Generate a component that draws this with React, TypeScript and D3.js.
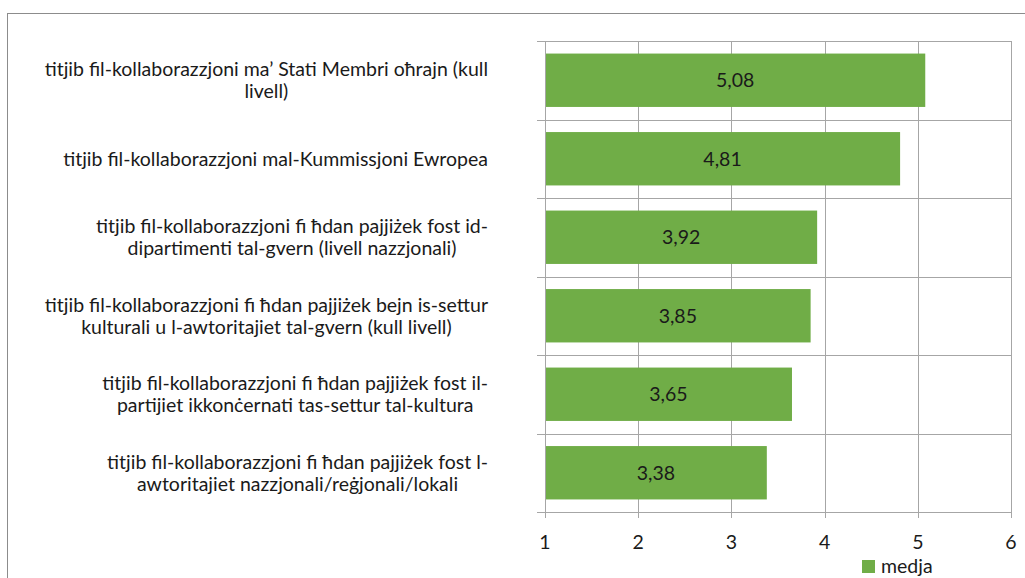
import React, { useEffect, useRef } from 'react'
import * as d3 from 'd3'

// categories, each split into the lines shown in the chart
const categories = [
  ['titjib fil-kollaborazzjoni ma’ Stati Membri oħrajn (kull', 'livell)'],
  ['titjib fil-kollaborazzjoni mal-Kummissjoni Ewropea'],
  ['titjib fil-kollaborazzjoni fi ħdan pajjiżek fost id-', 'dipartimenti tal-gvern (livell nazzjonali)'],
  ['titjib fil-kollaborazzjoni fi ħdan pajjiżek bejn is-settur', 'kulturali u l-awtoritajiet tal-gvern (kull livell)'],
  ['titjib fil-kollaborazzjoni fi ħdan pajjiżek fost il-', 'partijiet ikkonċernati tas-settur tal-kultura'],
  ['titjib fil-kollaborazzjoni fi ħdan pajjiżek fost l-', 'awtoritajiet nazzjonali/reġjonali/lokali'],
]
const values = [5.08, 4.81, 3.92, 3.85, 3.65, 3.38]
const xTicks = [1, 2, 3, 4, 5, 6]
const seriesName = 'medja'

const W = 1025
const H = 578
const FONT = 'Lato, "Open Sans", sans-serif'
const FS = 19.5

export default function App() {
  const ref = useRef<SVGSVGElement>(null)

  useEffect(() => {
    const svg = d3.select(ref.current)
    svg.selectAll('*').remove()

    const left = 545, right = 1011, top = 41, bottom = 512
    const grid = '#a6a6a6'

    const x = d3.scaleLinear().domain([1, 6]).range([left, right])
    const y = d3.scaleBand<number>()
      .domain(d3.range(categories.length))
      .range([top, bottom])
      .paddingInner(0.32)
      .paddingOuter(0.16)
    const step = y.step()

    // outer chart border
    svg.append('rect')
      .attr('x', 7.5).attr('y', 13.5)
      .attr('width', W + 20).attr('height', H + 20)
      .attr('fill', '#fff').attr('stroke', '#8c8c8c').attr('stroke-width', 1)

    // vertical gridlines with small ticks below the axis
    svg.append('g').selectAll('line')
      .data(xTicks)
      .join('line')
      .attr('x1', d => Math.round(x(d)) + 0.5)
      .attr('x2', d => Math.round(x(d)) + 0.5)
      .attr('y1', top)
      .attr('y2', bottom + 6)
      .attr('stroke', grid)

    // horizontal lines at category boundaries, with outward ticks
    const bounds = d3.range(categories.length + 1).map(i => top + i * (bottom - top) / categories.length)
    svg.append('g').selectAll('line')
      .data(bounds)
      .join('line')
      .attr('x1', left - 8)
      .attr('x2', right)
      .attr('y1', d => Math.round(d) + 0.5)
      .attr('y2', d => Math.round(d) + 0.5)
      .attr('stroke', grid)

    // bars
    svg.append('g').selectAll('rect')
      .data(values)
      .join('rect')
      .attr('x', x(1) + 1)
      .attr('y', (_, i) => y(i)!)
      .attr('width', d => x(d) - x(1) - 1)
      .attr('height', y.bandwidth())
      .attr('fill', '#70ad47')

    // value labels
    svg.append('g').selectAll('text')
      .data(values)
      .join('text')
      .attr('x', d => (x(1) + x(d)) / 2)
      .attr('y', (_, i) => y(i)! + y.bandwidth() / 2)
      .attr('dy', '0.35em')
      .attr('text-anchor', 'middle')
      .attr('font-family', FONT)
      .attr('font-size', FS)
      .attr('fill', '#1a1a1a')
      .text(d => d.toFixed(2).replace('.', ','))

    // x tick labels
    svg.append('g').selectAll('text')
      .data(xTicks)
      .join('text')
      .attr('x', d => x(d))
      .attr('y', bottom + 30)
      .attr('dy', '0.35em')
      .attr('text-anchor', 'middle')
      .attr('font-family', FONT)
      .attr('font-size', FS)
      .attr('fill', '#1a1a1a')
      .text(d => String(d))

    // category labels: block right-aligned, lines centred within the block
    const lineH = 22
    const labelRight = 488
    categories.forEach((lines, i) => {
      const cy = top + (i + 0.5) * step
      const g = svg.append('g')
      const texts = lines.map((ln, j) =>
        g.append('text')
          .attr('y', cy + (j - (lines.length - 1) / 2) * lineH)
          .attr('dy', '0.35em')
          .attr('text-anchor', 'middle')
          .attr('font-family', FONT)
          .attr('font-size', FS)
          .attr('fill', '#1a1a1a')
          .text(ln)
      )
      const maxW = d3.max(texts, t => (t.node() as SVGTextElement).getComputedTextLength()) || 0
      texts.forEach(t => t.attr('x', labelRight - maxW / 2))
    })

    // legend
    svg.append('rect')
      .attr('x', 862).attr('y', 560)
      .attr('width', 13).attr('height', 13)
      .attr('fill', '#70ad47')
    svg.append('text')
      .attr('x', 881).attr('y', 566)
      .attr('dy', '0.35em')
      .attr('font-family', FONT)
      .attr('font-size', FS)
      .attr('fill', '#1a1a1a')
      .text(seriesName)
  }, [])

  return (
    <svg
      ref={ref}
      width={W}
      height={H}
      style={{ position: 'absolute', left: 0, top: 0, background: '#fff' }}
    />
  )
}
